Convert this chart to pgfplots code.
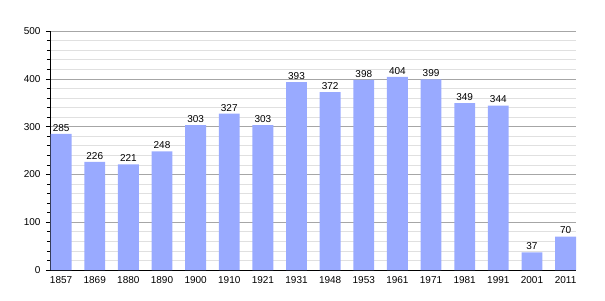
\documentclass[border=0pt]{standalone}
\usepackage{pgfplots}
\pgfplotsset{compat=1.18}
\usepackage{fontspec}
\setmainfont{Liberation Sans}
\definecolor{barblue}{HTML}{99AAFF}
\begin{document}
\begin{tikzpicture}
\path[use as bounding box] (-50pt,-30pt) rectangle (555pt,270pt);
\begin{axis}[
  at={(0,0)}, anchor=south west,
  scale only axis, width=526pt, height=239pt,
  ymin=0, ymax=500, xmin=-0.33, xmax=15.31,
  ytick={0,100,...,500}, minor y tick num=4,
  ymajorgrids, yminorgrids,
  major grid style={color=black!35, line width=0.6pt},
  minor grid style={color=black!12, line width=0.6pt},
  axis x line*=bottom, axis y line*=left,
  axis line style={black, line width=0.8pt, -},
  xtick=data, xtick style={draw=none},
  xticklabels={1857,1869,1880,1890,1900,1910,1921,1931,1948,1953,1961,1971,1981,1991,2001,2011},
  tick align=outside, major tick length=4pt, minor tick length=3pt,
  ytick style={black, line width=0.6pt},
  /pgf/number format/assume math mode=true,
  tick label style={font=\fontsize{10}{12}\selectfont},
  xticklabel style={yshift=1pt},
  yticklabel style={xshift=-2pt},
  ybar, bar width=0.62,
  nodes near coords,
  every node near coord/.append style={font=\fontsize{10}{12}\selectfont, yshift=-1pt},
]
\addplot[fill=barblue, draw=none] coordinates {
(0,285) (1,226) (2,221) (3,248) (4,303) (5,327) (6,303) (7,393)
(8,372) (9,398) (10,404) (11,399) (12,349) (13,344) (14,37) (15,70)};
\end{axis}
\end{tikzpicture}
\end{document}
